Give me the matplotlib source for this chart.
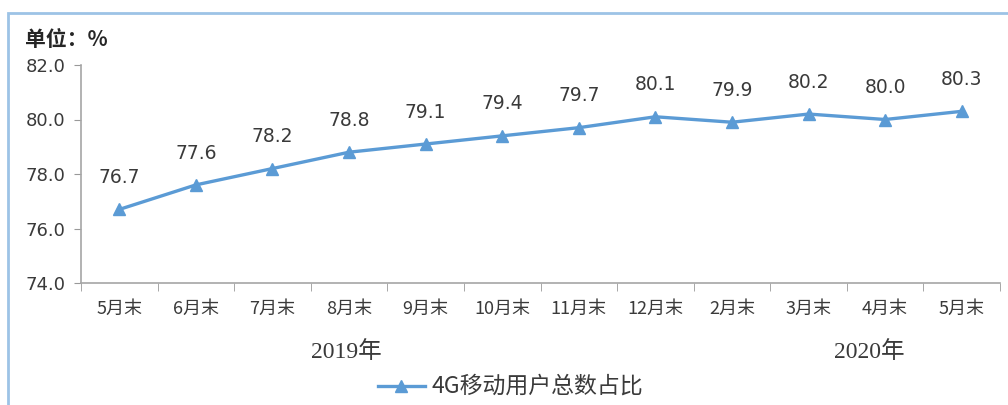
import matplotlib
matplotlib.use("Agg")
import matplotlib.pyplot as plt
from matplotlib.patches import Rectangle
from matplotlib.lines import Line2D

plt.rcParams['font.family'] = ['Noto Sans CJK SC', 'DejaVu Sans']

categories = ["5月末", "6月末", "7月末", "8月末", "9月末", "10月末", "11月末",
              "12月末", "2月末", "3月末", "4月末", "5月末"]
values = [76.7, 77.6, 78.2, 78.8, 79.1, 79.4, 79.7, 80.1, 79.9, 80.2, 80.0, 80.3]
yticks = [74.0, 76.0, 78.0, 80.0, 82.0]
years = ["2019年", "2020年"]
series_name = "4G移动用户总数占比"

color = "#5B9BD5"
txt = "#3a3a3a"
num_font = ['DejaVu Sans']

fig = plt.figure(figsize=(10.08, 4.05), dpi=100)
ax = fig.add_axes([81/1008, 1-283/405, (1000-81)/1008, (283-65)/405])

x = list(range(len(values)))
ax.plot(x, values, color=color, lw=2.4, marker='^', ms=9, mfc=color, mec=color)
for xi, v in zip(x, values):
    ax.annotate(f"{v:.1f}", (xi, v), xytext=(0, 19), textcoords='offset points',
                ha='center', va='baseline', fontsize=13.5, color=txt, family=num_font)

ax.set_xlim(-0.5, len(values) - 0.5)
ax.set_ylim(74, 82)
ax.set_yticks(yticks)
ax.set_yticklabels([f"{t:.1f}" for t in yticks], fontsize=13, color=txt, family=num_font)
ax.set_xticks(x)
ax.set_xticklabels(categories, fontsize=13, color=txt)
ax.set_xticks([i - 0.5 for i in range(len(values) + 1)], minor=True)
ax.tick_params(axis='x', which='major', length=0, pad=12)
ax.tick_params(axis='x', which='minor', length=6, color='#999999', direction='out')
ax.tick_params(axis='y', length=5, color='#999999', direction='out', pad=6)
for s in ['top', 'right']:
    ax.spines[s].set_visible(False)
for s in ['left', 'bottom']:
    ax.spines[s].set_color('#A6A6A6')
    ax.spines[s].set_linewidth(1.2)

fig.text(346/1008, 1-352/405, years[0], ha='center', va='center', fontsize=17,
         color=txt, family=['Liberation Serif', 'Noto Sans CJK SC'])
fig.text(869/1008, 1-352/405, years[1], ha='center', va='center', fontsize=17,
         color=txt, family=['Liberation Serif', 'Noto Sans CJK SC'])

fig.text(25/1008, 1-40/405, "单位：%", ha='left', va='center', fontsize=15,
         fontweight='bold', color='#262626')

leg = Line2D([378/1008, 425/1008], [1-386/405, 1-386/405], transform=fig.transFigure,
             color=color, lw=2.4)
fig.add_artist(leg)
leg2 = Line2D([401/1008], [1-386/405], transform=fig.transFigure, color=color,
              marker='^', ms=9, mfc=color, mec=color, lw=0)
fig.add_artist(leg2)
fig.text(432/1008, 1-386/405, series_name, ha='left', va='center', fontsize=16.5, color=txt)

fig.add_artist(Rectangle((8/1008, -0.1), 1.1, 1 - 13/405 + 0.1, transform=fig.transFigure,
                         fill=False, ec='#9DC3E6', lw=2))

fig.savefig("out.png", dpi=100)
